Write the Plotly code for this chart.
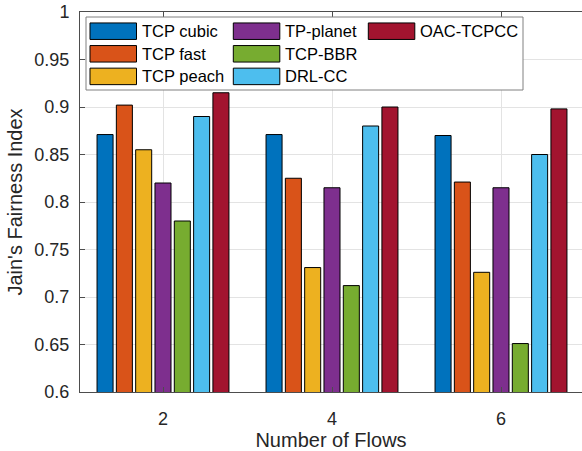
import plotly.graph_objects as go

# ---- data ----
flows = [2, 4, 6]
series_names = ["TCP cubic", "TCP fast", "TCP peach", "TP-planet", "TCP-BBR", "DRL-CC", "OAC-TCPCC"]
tcp_cubic = [0.871, 0.871, 0.870]
tcp_fast = [0.902, 0.825, 0.821]
tcp_peach = [0.855, 0.731, 0.726]
tp_planet = [0.820, 0.815, 0.815]
tcp_bbr = [0.780, 0.712, 0.651]
drl_cc = [0.890, 0.880, 0.850]
oac_tcpcc = [0.915, 0.900, 0.898]
series_values = [tcp_cubic, tcp_fast, tcp_peach, tp_planet, tcp_bbr, drl_cc, oac_tcpcc]
colors = ["#0072BD", "#D95319", "#EDB120", "#7E2F8E", "#77AC30", "#4DBEEE", "#A2142F"]
y_tick_vals = [0.6, 0.65, 0.7, 0.75, 0.8, 0.85, 0.9, 0.95, 1.0]
y_tick_text = ["0.6", "0.65", "0.7", "0.75", "0.8", "0.85", "0.9", "0.95", "1"]
x_tick_text = ["2", "4", "6"]

W, H = 582, 451
ML, MR, MT, MB = 80, 0, 12, 59
PW, PH = W - ML - MR, H - MT - MB

def px(xp):
    return (xp - ML) / PW

def py(yp):
    return 1 - (yp - MT) / PH

fig = go.Figure()
for name, vals, c in zip(series_names, series_values, colors):
    fig.add_trace(go.Bar(x=flows, y=vals, name=name, marker=dict(color=c, line=dict(color="#000000", width=1)),
                         showlegend=False))

axis_col = "#4d4d4d"
grid_col = "#e3e3e3"
fig.update_layout(
    width=W, height=H,
    margin=dict(l=ML, r=MR, t=MT, b=MB),
    plot_bgcolor="white", paper_bgcolor="white",
    barmode="group", bargap=0.2, bargroupgap=0.17,
    font=dict(family="Liberation Sans, Arial, sans-serif", color="#262626"),
    showlegend=False,
)
fig.update_xaxes(
    range=[1.0178, 6.9586], tickvals=flows, ticktext=x_tick_text,
    ticks="inside", ticklen=5, tickcolor=axis_col, showline=True, linecolor=axis_col, linewidth=1,
    mirror="ticks", showgrid=True, gridcolor=grid_col, zeroline=False,
    tickfont=dict(size=18, color="#262626"), ticklabelstandoff=10,
    title=dict(text="Number of Flows", font=dict(size=20, color="#262626"), standoff=8),
)
fig.update_yaxes(
    range=[0.6, 1.0], tickvals=y_tick_vals, ticktext=y_tick_text,
    ticks="inside", ticklen=5, tickcolor=axis_col, showline=True, linecolor=axis_col, linewidth=1,
    mirror=False, showgrid=True, gridcolor=grid_col, zeroline=False,
    tickfont=dict(size=18, color="#262626"), ticklabelstandoff=6,
    title=dict(text="Jain's Fairness Index", font=dict(size=20, color="#262626"), standoff=6),
)

# ---- legend (MATLAB style, column-major, 3 columns) ----
shapes = [dict(type="rect", xref="paper", yref="paper", x0=px(86), x1=px(523), y0=py(90), y1=py(17),
               line=dict(color="#808080", width=1), fillcolor="white", layer="above")]
annotations = []
col_x = [90, 233.3, 368.3]
row_y = [31.2, 53.8, 76.4]
sw_w, sw_h = 46.5, 16.5
for i, (name, c) in enumerate(zip(series_names, colors)):
    col, row = divmod(i, 3)
    x0 = col_x[col]
    yc = row_y[row]
    shapes.append(dict(type="rect", xref="paper", yref="paper", x0=px(x0), x1=px(x0 + sw_w),
                       y0=py(yc + sw_h / 2), y1=py(yc - sw_h / 2),
                       line=dict(color="#000000", width=1), fillcolor=c, layer="above"))
    annotations.append(dict(text=name, xref="paper", yref="paper", x=px(x0 + sw_w + 3), y=py(yc),
                            xanchor="left", yanchor="middle", showarrow=False,
                            font=dict(size=16.5, color="#000000")))
fig.update_layout(shapes=shapes, annotations=annotations)

fig.write_html("out.html")
